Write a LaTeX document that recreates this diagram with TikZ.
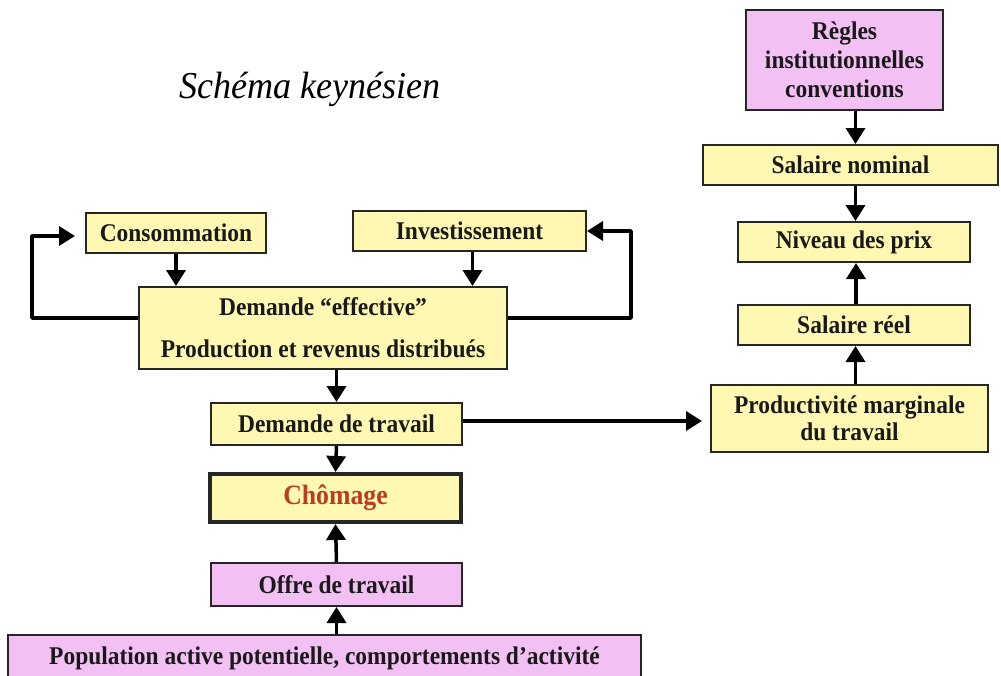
\documentclass[tikz,border=0pt]{standalone}
\usepackage{fontspec}
\setmainfont{Liberation Serif}
\newfontfamily\boxfont[FakeStretch=0.92,Ligatures=TeX]{Liberation Serif}
\newfontfamily\titlefont[FakeStretch=0.95,Ligatures=TeX]{Liberation Serif}
\usetikzlibrary{arrows.meta}
\definecolor{boxyellow}{RGB}{255,248,178}
\definecolor{boxpink}{RGB}{242,192,242}
\definecolor{chomred}{RGB}{185,60,35}
\tikzset{
  box/.style={draw=black!85, line width=2pt, fill=boxyellow, inner sep=0pt, align=center,
    font=\boxfont\fontsize{25.5}{29}\selectfont\bfseries, text=black!90},
  pinkbox/.style={box, fill=boxpink},
  arr/.style={line width=3.5pt, -{Triangle[length=16pt,width=19pt]}},
  loopline/.style={line width=3.5pt, -{Triangle[length=16pt,width=19pt]}}
}
\begin{document}
\begin{tikzpicture}[x=1pt,y=-1pt]
\clip (0,0) rectangle (1001,675);
\fill[white] (0,0) rectangle (1001,675);
% title
\node[anchor=base, inner sep=0pt, font=\titlefont\fontsize{38}{40}\selectfont\itshape] (title) at (310,98) {Schéma keynésien};
% right column
\node[pinkbox, minimum width=197pt, minimum height=100pt] (regles) at (844.5,60) {Règles\\institutionnelles\\conventions};
\node[box, minimum width=295pt, minimum height=40pt] (salnom) at (850.5,165) {Salaire nominal};
\node[box, minimum width=232pt, minimum height=40pt] (niveau) at (854,242) {Niveau des prix};
\node[box, minimum width=232pt, minimum height=40pt] (salreel) at (854,325) {Salaire réel};
\node[box, minimum width=277pt, minimum height=67pt, font=\boxfont\fontsize{25.5}{27}\selectfont\bfseries] (prod) at (849.5,418.5) {Productivité marginale\\du travail};
% left part
\node[box, minimum width=180pt, minimum height=40pt] (conso) at (176,233) {Consommation};
\node[box, minimum width=233pt, minimum height=40pt] (invest) at (469.5,231) {Investissement};
\node[box, minimum width=368pt, minimum height=82pt, font=\boxfont\fontsize{25.5}{42}\selectfont\bfseries] (demande) at (323,328) {Demande “effective”\\Production et revenus distribués};
\node[box, minimum width=251pt, minimum height=42pt] (dtrav) at (336.5,424) {Demande de travail};
\node[box, line width=4pt, minimum width=251pt, minimum height=48pt, font=\boxfont\fontsize{28}{30}\selectfont\bfseries, text=chomred] (chom) at (335.5,498) {Chômage};
\node[pinkbox, minimum width=633pt, minimum height=50pt, text depth=0pt] (pop) at (324.5,660) {\raisebox{9pt}{Population active potentielle, comportements d’activité}};
\node[pinkbox, minimum width=251pt, minimum height=43pt] (offre) at (336.5,584.5) {Offre de travail};
% arrows right column
\draw[arr] ([xshift=11pt]regles.south) -- ([xshift=11pt]regles.south |- salnom.north);
\draw[arr] ([xshift=5pt]salnom.south) -- ([xshift=5pt]salnom.south |- niveau.north);
\draw[arr] ([xshift=2pt]salreel.north) -- ([xshift=2pt]salreel.north |- niveau.south);
\draw[arr] ([xshift=6pt]prod.north) -- ([xshift=6pt]prod.north |- salreel.south);
% arrows left part
\draw[arr] (conso.south) -- (conso.south |- demande.north);
\draw[arr] ([xshift=3pt]invest.south) -- ([xshift=3pt]invest.south |- demande.north);
\draw[arr] (demande.south -| dtrav.north) -- (dtrav.north);
\draw[arr] (dtrav.south) -- (chom.north);
\draw[arr] (offre.north) -- (chom.south);
\draw[arr] (pop.north -| offre.south) -- (offre.south);
% loops
\draw[loopline, shorten >=10pt, line join=round] ([yshift=10pt]demande.west) -- ++(-106,0) |- ([yshift=-3pt]conso.west);
\draw[loopline, line join=round] ([yshift=10pt]demande.east) -- ++(123,0) |- (invest.east);
% horizontal to productivity
\draw[arr, shorten >=8pt] ([yshift=3pt]dtrav.east) -- ([yshift=3pt]dtrav.east -| prod.west);
\end{tikzpicture}
\end{document}
